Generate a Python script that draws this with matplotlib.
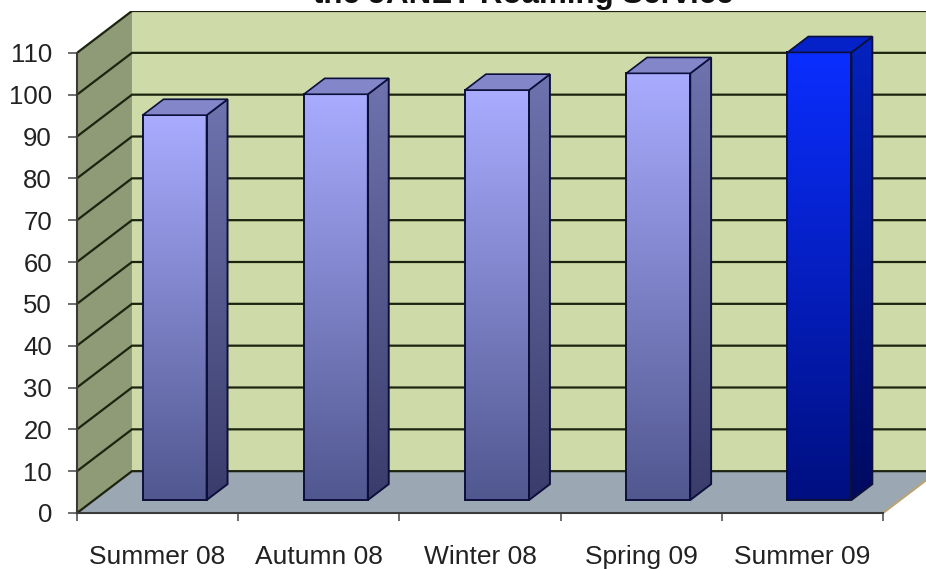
import numpy as np
import matplotlib
matplotlib.use("Agg")
import matplotlib.pyplot as plt
from matplotlib.patches import Polygon
from matplotlib.colors import LinearSegmentedColormap

categories = ["Summer 08", "Autumn 08", "Winter 08", "Spring 09", "Summer 09"]
values = [92, 97, 98, 102, 107]
y_ticks = list(range(0, 111, 10))
title = "the JANET Roaming Service"

W, H = 926, 569
plt.rcParams["font.family"] = ["Liberation Sans", "DejaVu Sans"]

fig = plt.figure(figsize=(W / 100, H / 100), dpi=100, facecolor="white")
# Axes runs from the front floor corner to the right edge of the figure
ax = fig.add_axes([77 / W, 1 - 513 / H, (W - 77) / W, (513 - 11) / H])
ax.set_xlim(0, (W - 77) / 161.2)
ax.set_ylim(0, 120)
ax.patch.set_visible(False)

# Oblique depth of the box, in data units
DX, DY = 0.341, 10.0
BAR_W = 0.397
D0, D1 = 0.31, 0.69
X_END = len(categories)


def proj(x, v, d):
    return (x + d * DX, v + d * DY)


def shaded(poly, top_c, bot_c, vmin, vmax, z):
    """Fill a polygon with a vertical gradient between two data heights."""
    cmap = LinearSegmentedColormap.from_list("g", [top_c, bot_c])
    xs = [p[0] for p in poly]
    im = ax.imshow(np.linspace(0, 1, 256).reshape(-1, 1), cmap=cmap, aspect="auto",
                   extent=(min(xs), max(xs), vmin, vmax), origin="upper", zorder=z)
    im.set_clip_path(Polygon(poly, transform=ax.transData))
    ax.add_patch(Polygon(poly, closed=True, fill=False, ec="#0c0f3a", lw=1.4,
                         joinstyle="miter", zorder=z + 0.1))


# Back wall, floor and left wall
ax.add_patch(Polygon([proj(0, 0, 1), proj(X_END + 1, 0, 1), proj(X_END + 1, 110, 1), proj(0, 110, 1)],
                     fc="#cedba8", ec="none", zorder=1))
ax.add_patch(Polygon([proj(0, 0, 0), proj(X_END, 0, 0), proj(X_END, 0, 1), proj(0, 0, 1)],
                     fc="#9ba8b4", ec="none", zorder=1))
ax.add_patch(Polygon([proj(0, 0, 0), proj(0, 110, 0), proj(0, 110, 1), proj(0, 0, 1)],
                     fc="#8f9a76", ec="none", zorder=1))

# Gridlines wrap from the left wall onto the back wall
for t in y_ticks:
    a, b = proj(0, t, 0), proj(0, t, 1)
    c = proj(X_END + 1, t, 1)
    ax.plot([a[0], b[0], c[0]], [a[1], b[1], c[1]], color="#1c2410", lw=1.6, zorder=2,
            solid_joinstyle="miter")
a, b = proj(X_END, 0, 0), proj(X_END, 0, 1)
ax.plot([a[0], b[0]], [a[1], b[1]], color="#b9a477", lw=1.6, zorder=2)

# Bars
palette = [("#a9acff", "#51578f", "#6f73ae", "#3a3d6b", "#8386c9")] * 4 + \
          [("#0a2eff", "#000f80", "#0522c0", "#000a60", "#0522c8")]
for i, (v, cols) in enumerate(zip(values, palette)):
    x0 = i + 0.5 - BAR_W / 2
    x1 = i + 0.5 + BAR_W / 2
    front_bl, front_br = proj(x0, 0, D0), proj(x1, 0, D0)
    front_tl, front_tr = proj(x0, v, D0), proj(x1, v, D0)
    back_br, back_tr, back_tl = proj(x1, 0, D1), proj(x1, v, D1), proj(x0, v, D1)
    z = 3 + i
    shaded([front_bl, front_br, front_tr, front_tl], cols[0], cols[1],
           front_bl[1], front_tl[1], z)
    shaded([front_br, back_br, back_tr, front_tr], cols[2], cols[3],
           front_br[1], back_tr[1], z)
    ax.add_patch(Polygon([front_tl, front_tr, back_tr, back_tl], fc=cols[4], ec="#0c0f3a",
                         lw=1.2, joinstyle="miter", zorder=z + 0.2))

# Front axis lines and ticks
for side in ("top", "right"):
    ax.spines[side].set_visible(False)
ax.spines["left"].set_bounds(0, 110)
ax.spines["bottom"].set_bounds(0, X_END)
for side in ("left", "bottom"):
    ax.spines[side].set_linewidth(1.5)
    ax.spines[side].set_color("#3a3a3a")
    ax.spines[side].set_zorder(10)

ax.set_yticks(y_ticks)
ax.tick_params(axis="y", length=6.5, width=1.2, color="#555555", labelsize=18.5, pad=11.5,
               labelcolor="#222222")
ax.set_xticks(range(X_END + 1))
ax.set_xticklabels([])
ax.tick_params(axis="x", which="major", length=6, width=1.2, color="#555555")

# Category names sit centred between the ticks, well below the axis
for i, name in enumerate(categories):
    ax.text(i + 0.5, -(557 - 513) / (513 - 11), name, transform=ax.get_xaxis_transform(),
            va="center", ha="center", fontsize=19, color="#222222")

# The heading runs off the top edge of the figure
fig.text(523 / W, 1 - 3 / H, title, ha="center", va="baseline", fontsize=22.5, fontweight="bold",
         color="#111111")

fig.savefig("out.png", dpi=100)
